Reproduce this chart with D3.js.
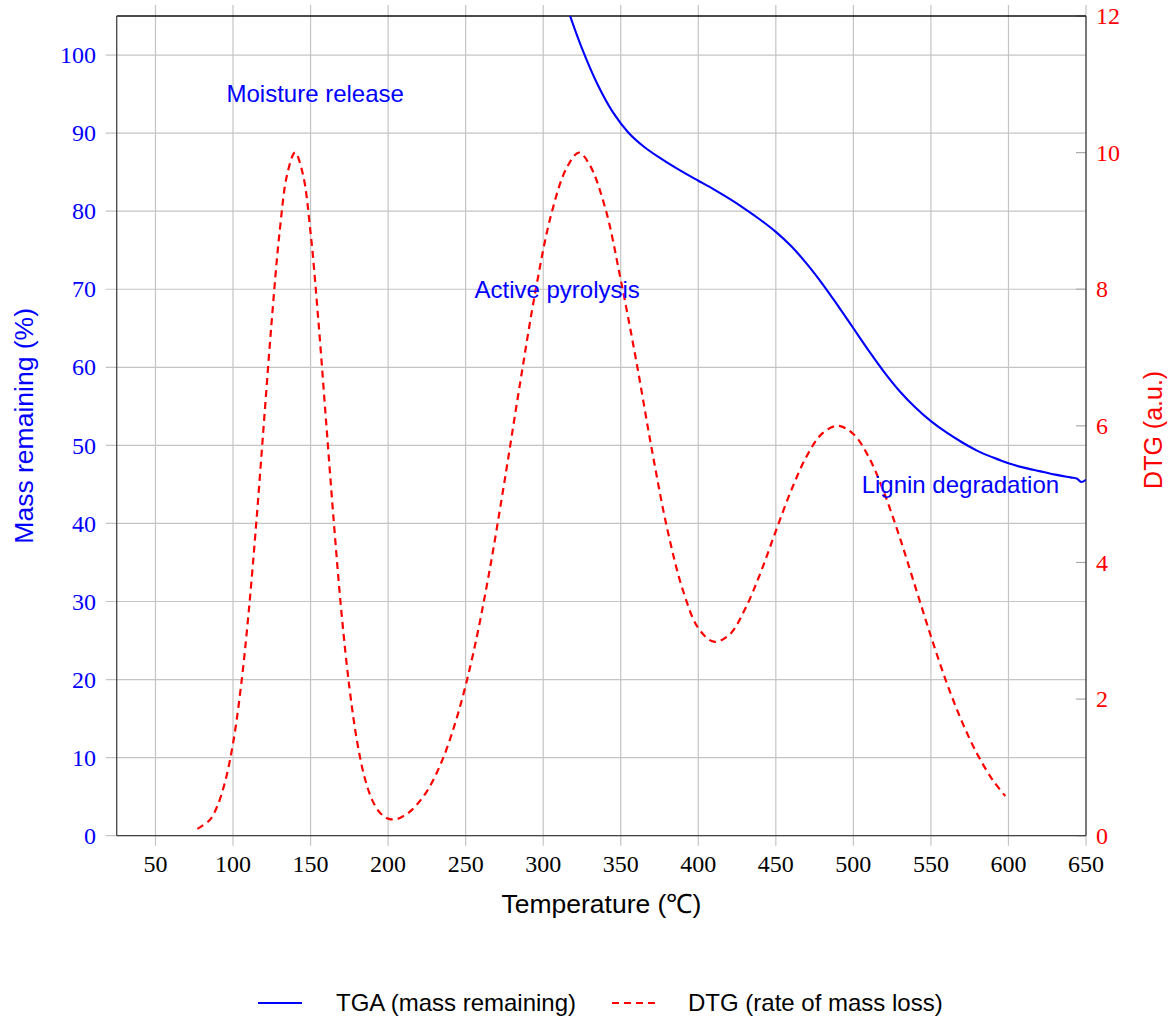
<!DOCTYPE html>
<html>
<head>
<meta charset="utf-8">
<script src="https://cdn.jsdelivr.net/npm/d3@7/dist/d3.min.js"></script>
<style>
  html, body { margin: 0; padding: 0; background: #fff; }
  svg { display: block; }
</style>
</head>
<body>
<svg id="chart" width="1171" height="1018"></svg>
<script>
// ---- Data ----
const tgaTemp = [300, 310, 317, 325, 335, 345, 355, 365, 375, 385, 395, 400, 410, 420, 430, 440, 450, 460, 470, 480, 490, 500, 510, 520, 530, 540, 550, 560, 570, 580, 590, 600, 610, 620, 630, 640, 644, 647, 650];
const tgaMass = [116, 109.4, 105.2, 100.85, 96.25, 92.65, 90.05, 88.25, 86.85, 85.6, 84.45, 83.9, 82.8, 81.6, 80.3, 78.9, 77.35, 75.5, 73.25, 70.7, 67.9, 65.0, 62.1, 59.35, 56.9, 54.85, 53.1, 51.65, 50.4, 49.3, 48.45, 47.7, 47.15, 46.7, 46.25, 45.9, 45.75, 45.3, 45.6];

const dtgTemp = [77, 85, 90, 95, 100, 105, 110, 115, 120, 125, 130, 135, 140, 145, 150, 155, 160, 165, 170, 175, 180, 185, 190, 195, 200, 205, 210, 215, 225, 235, 245, 255, 265, 275, 285, 295, 305, 315, 323, 330, 340, 350, 360, 370, 380, 390, 400, 410, 420, 430, 440, 450, 460, 470, 480, 490, 500, 510, 520, 530, 540, 550, 560, 570, 580, 590, 598];
const dtgRate = [0.10, 0.23, 0.44, 0.80, 1.35, 2.16, 3.25, 4.58, 6.07, 7.55, 8.83, 9.69, 10.0, 9.69, 8.83, 7.55, 6.07, 4.59, 3.25, 2.18, 1.38, 0.84, 0.51, 0.33, 0.25, 0.24, 0.29, 0.37, 0.65, 1.11, 1.78, 2.68, 3.83, 5.18, 6.61, 7.97, 9.08, 9.77, 10.0, 9.82, 9.19, 8.14, 6.95, 5.66, 4.49, 3.60, 3.04, 2.84, 2.94, 3.31, 3.84, 4.46, 5.06, 5.56, 5.89, 6.00, 5.88, 5.54, 5.01, 4.36, 3.64, 2.92, 2.25, 1.67, 1.19, 0.81, 0.58];

const xTicks = [50, 100, 150, 200, 250, 300, 350, 400, 450, 500, 550, 600, 650];
const yLeftTicks = [0, 10, 20, 30, 40, 50, 60, 70, 80, 90, 100];
const yRightTicks = [0, 2, 4, 6, 8, 10, 12];

const annoText = ["Moisture release", "Active pyrolysis", "Lignin degradation"];
const annoTemp = [153, 309, 569];
const annoMass = [95, 70, 45];

const seriesNames = ["TGA (mass remaining)", "DTG (rate of mass loss)"];

// ---- Layout ----
const L = 116.7, R = 1086, T = 16, B = 835.7;
const BLUE = "#0000ff", RED = "#ff0000", GRID = "#c4c4c4";
const SANS = "'Liberation Sans', Arial, sans-serif";
const SERIF = "'Liberation Serif', 'Times New Roman', serif";

const svg = d3.select("#chart");
const x = d3.scaleLinear().domain([25, 650]).range([L, R]);
const yL = d3.scaleLinear().domain([0, 105]).range([B, T]);
const yR = d3.scaleLinear().domain([0, 12]).range([B, T]);

svg.append("defs").append("clipPath").attr("id", "clip")
  .append("rect").attr("x", L).attr("y", T).attr("width", R - L).attr("height", B - T);

// grid + outward ticks
const g = svg.append("g");
g.selectAll("line.vx").data(xTicks).enter().append("line")
  .attr("x1", d => x(d)).attr("x2", d => x(d))
  .attr("y1", T - 11).attr("y2", B + 10)
  .attr("stroke", GRID).attr("stroke-width", 1.2);
g.selectAll("line.hy").data(yLeftTicks).enter().append("line")
  .attr("x1", L - 11).attr("x2", R)
  .attr("y1", d => yL(d)).attr("y2", d => yL(d))
  .attr("stroke", GRID).attr("stroke-width", 1.2);
// right inward ticks
g.selectAll("line.ry").data(yRightTicks).enter().append("line")
  .attr("x1", R - 10).attr("x2", R)
  .attr("y1", d => yR(d)).attr("y2", d => yR(d))
  .attr("stroke", "#aaaaaa").attr("stroke-width", 1.2);

// frame
svg.append("line").attr("x1", L).attr("x2", R).attr("y1", T).attr("y2", T).attr("stroke", "#111").attr("stroke-width", 1.3);
svg.append("line").attr("x1", L).attr("x2", R).attr("y1", B).attr("y2", B).attr("stroke", "#444").attr("stroke-width", 1.3);
svg.append("line").attr("x1", L).attr("x2", L).attr("y1", T).attr("y2", B).attr("stroke", "#444").attr("stroke-width", 1.3);
svg.append("line").attr("x1", R).attr("x2", R).attr("y1", T).attr("y2", B).attr("stroke", "#444").attr("stroke-width", 1.3);

// tick labels
svg.selectAll("text.xt").data(xTicks).enter().append("text")
  .attr("x", d => x(d)).attr("y", B + 36)
  .attr("text-anchor", "middle").attr("font-family", SERIF).attr("font-size", 24).attr("fill", "#000")
  .text(d => d);
svg.selectAll("text.yl").data(yLeftTicks).enter().append("text")
  .attr("x", 96).attr("y", d => yL(d)).attr("dy", "0.34em")
  .attr("text-anchor", "end").attr("font-family", SERIF).attr("font-size", 24).attr("fill", BLUE)
  .text(d => d);
svg.selectAll("text.yr").data(yRightTicks).enter().append("text")
  .attr("x", 1096).attr("y", d => yR(d)).attr("dy", "0.34em")
  .attr("text-anchor", "start").attr("font-family", SERIF).attr("font-size", 24).attr("fill", RED)
  .text(d => d);

// axis titles
svg.append("text").attr("transform", `translate(33,${(T + B) / 2}) rotate(-90)`)
  .attr("text-anchor", "middle").attr("font-family", SANS).attr("font-size", 26.5).attr("fill", BLUE)
  .text("Mass remaining (%)");
svg.append("text").attr("transform", `translate(1162,${(T + B) / 2 + 4}) rotate(-90)`)
  .attr("text-anchor", "middle").attr("font-family", SANS).attr("font-size", 25).attr("fill", RED)
  .text("DTG (a.u.)");
svg.append("text").attr("x", (L + R) / 2).attr("y", 913)
  .attr("text-anchor", "middle").attr("font-family", SANS).attr("font-size", 26.5).attr("fill", "#000")
  .text("Temperature (℃)");

// curves
const plot = svg.append("g").attr("clip-path", "url(#clip)");
const tga = tgaTemp.map((t, i) => [t, tgaMass[i]]);
const dtg = dtgTemp.map((t, i) => [t, dtgRate[i]]);
plot.append("path").datum(tga)
  .attr("d", d3.line().x(d => x(d[0])).y(d => yL(d[1])).curve(d3.curveCatmullRom))
  .attr("fill", "none").attr("stroke", BLUE).attr("stroke-width", 2.1);
plot.append("path").datum(dtg)
  .attr("d", d3.line().x(d => x(d[0])).y(d => yR(d[1])).curve(d3.curveCatmullRom))
  .attr("fill", "none").attr("stroke", RED).attr("stroke-width", 2.2).attr("stroke-dasharray", "7,5");

// annotations
svg.selectAll("text.anno").data(annoText).enter().append("text")
  .attr("x", (d, i) => x(annoTemp[i])).attr("y", (d, i) => yL(annoMass[i])).attr("dy", "0.35em")
  .attr("text-anchor", "middle").attr("font-family", SANS).attr("font-size", 24).attr("fill", BLUE)
  .text(d => d);

// legend
const leg = svg.append("g");
const legY = 1003;
leg.append("line").attr("x1", 258).attr("x2", 302).attr("y1", legY).attr("y2", legY)
  .attr("stroke", BLUE).attr("stroke-width", 2.1);
leg.append("text").attr("x", 336).attr("y", legY).attr("dy", "0.35em")
  .attr("font-family", SANS).attr("font-size", 24).attr("fill", "#000").text(seriesNames[0]);
leg.append("line").attr("x1", 612).attr("x2", 656).attr("y1", legY).attr("y2", legY)
  .attr("stroke", RED).attr("stroke-width", 2.2).attr("stroke-dasharray", "7,5");
leg.append("text").attr("x", 688).attr("y", legY).attr("dy", "0.35em")
  .attr("font-family", SANS).attr("font-size", 24).attr("fill", "#000").text(seriesNames[1]);
</script>
</body>
</html>
